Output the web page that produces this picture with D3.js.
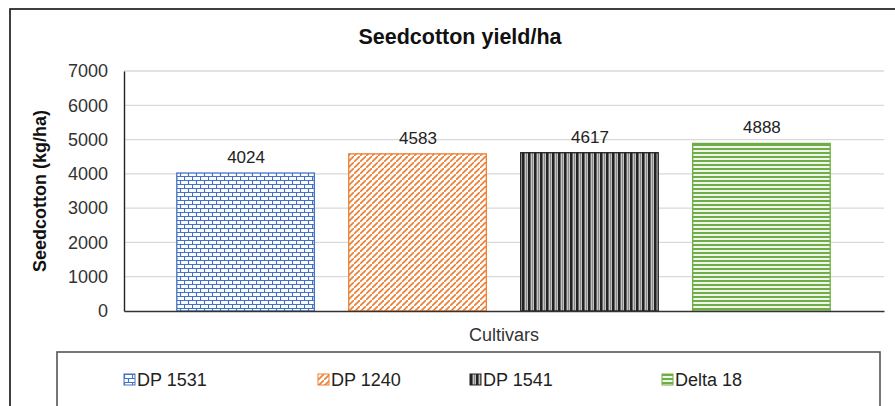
<!DOCTYPE html>
<meta charset="utf-8">
<style>
body{margin:0;background:#fff;}
text{font-family:"Liberation Sans",Arial,sans-serif;}
</style>
<body>
<svg width="895" height="406"></svg>
<script src="https://cdnjs.cloudflare.com/ajax/libs/d3/7.8.5/d3.min.js"></script>
<script>

var cultivars = ["DP 1531", "DP 1240", "DP 1541", "Delta 18"];
var yields = [4024, 4583, 4617, 4888];
var yTicks = [0, 1000, 2000, 3000, 4000, 5000, 6000, 7000];
var patternIds = ["brick", "diag", "vert", "horiz"];
var colors = ["#4472c4", "#ed7d31", "#222222", "#70ad47"];

var svg = d3.select("svg");
var defs = svg.append("defs");

// brick pattern (blue)
var p = defs.append("pattern").attr("id","brick").attr("patternUnits","userSpaceOnUse")
  .attr("width",8).attr("height",8);
p.append("rect").attr("width",8).attr("height",8).attr("fill","#fff");
p.append("path").attr("d","M0,0.5H8M0,4.5H8M0.5,0V4M4.5,4V8")
  .attr("stroke","#4472c4").attr("stroke-width",1.2).attr("fill","none");

// wide upward diagonal (orange)
p = defs.append("pattern").attr("id","diag").attr("patternUnits","userSpaceOnUse")
  .attr("width",6).attr("height",6);
p.append("rect").attr("width",6).attr("height",6).attr("fill","#fff");
p.append("path").attr("d","M-1,7L7,-1M-2,1L1,-2M5,8L8,5")
  .attr("stroke","#ed7d31").attr("stroke-width",1.6).attr("fill","none");

// dark vertical stripes (black/grey)
p = defs.append("pattern").attr("id","vert").attr("patternUnits","userSpaceOnUse")
  .attr("width",6).attr("height",6);
p.append("rect").attr("width",6).attr("height",6).attr("fill","#c4c4c4");
p.append("rect").attr("x",0).attr("width",2).attr("height",6).attr("fill","#222");
p.append("rect").attr("x",2).attr("width",1).attr("height",6).attr("fill","#6a6a6a");
p.append("rect").attr("x",4).attr("width",1).attr("height",6).attr("fill","#8a8a8a");

// horizontal stripes (green)
p = defs.append("pattern").attr("id","horiz").attr("patternUnits","userSpaceOnUse")
  .attr("width",8).attr("height",4);
p.append("rect").attr("width",8).attr("height",4).attr("fill","#eef5ea");
p.append("rect").attr("y",0).attr("width",8).attr("height",2).attr("fill","#70ad47");

// outer chart frame
svg.append("rect").attr("x",10).attr("y",9).attr("width",910).attr("height",420)
  .attr("fill","none").attr("stroke","#111").attr("stroke-width",1.6);

var x = d3.scaleBand().domain(cultivars).range([124, 884]).paddingInner(0.2).paddingOuter(0.31);
var y = d3.scaleLinear().domain([0, 7000]).range([311, 71]);

// gridlines
svg.append("g").selectAll("line").data(yTicks.slice(1)).join("line")
  .attr("x1",124).attr("x2",884)
  .attr("y1",d=>y(d)).attr("y2",d=>y(d))
  .attr("stroke","#d9d9d9").attr("stroke-width",1.3);

// y axis
var yAxis = svg.append("g").attr("transform","translate(124,0)")
  .call(d3.axisLeft(y).tickValues(yTicks).tickSize(0).tickPadding(16).tickFormat(d3.format("d")));
yAxis.select(".domain").attr("stroke","#222").attr("stroke-width",1.4);
yAxis.selectAll("text").attr("font-size",18).attr("fill","#333")
  .attr("font-family","Liberation Sans, Arial, sans-serif");

// bars
svg.append("g").selectAll("rect").data(yields).join("rect")
  .attr("x",(d,i)=>x(cultivars[i])-0.5)
  .attr("y",d=>y(d))
  .attr("width",x.bandwidth())
  .attr("height",d=>y(0)-y(d))
  .attr("fill",(d,i)=>"url(#"+patternIds[i]+")")
  .attr("stroke",(d,i)=>colors[i]).attr("stroke-width",1.3);

// x axis baseline
var xAxis = svg.append("g").attr("transform","translate(0,311)")
  .call(d3.axisBottom(x).tickSize(0).tickFormat(""));
xAxis.select(".domain").attr("stroke","#333").attr("stroke-width",1.4);

// value labels
svg.append("g").selectAll("text").data(yields).join("text")
  .attr("x",(d,i)=>x(cultivars[i])+x.bandwidth()/2)
  .attr("y",d=>y(d)-10)
  .attr("text-anchor","middle").attr("font-size",17).attr("fill","#222")
  .text(d=>d);

// titles
svg.append("text").attr("x",460).attr("y",44).attr("text-anchor","middle")
  .attr("font-size",21.5).attr("font-weight","bold").attr("fill","#111")
  .text("Seedcotton yield/ha");
svg.append("text").attr("transform","translate(46,191) rotate(-90)").attr("text-anchor","middle")
  .attr("font-size",18).attr("font-weight","bold").attr("fill","#111")
  .text("Seedcotton (kg/ha)");
svg.append("text").attr("x",504).attr("y",341).attr("text-anchor","middle")
  .attr("font-size",18).attr("fill","#333")
  .text("Cultivars");

// legend
svg.append("rect").attr("x",57).attr("y",352).attr("width",823).attr("height",70)
  .attr("fill","#fff").attr("stroke","#555").attr("stroke-width",1.6);
var legX = [124, 318, 470, 662];
var leg = svg.append("g").selectAll("g").data(cultivars).join("g")
  .attr("transform",(d,i)=>"translate("+legX[i]+",374)");
leg.append("rect").attr("width",11).attr("height",11)
  .attr("fill",(d,i)=>"url(#"+patternIds[i]+")")
  .attr("stroke",(d,i)=>colors[i]).attr("stroke-width",1);
leg.append("text").attr("x",13).attr("y",12).attr("font-size",18).attr("fill","#222")
  .text(d=>d);
</script>
